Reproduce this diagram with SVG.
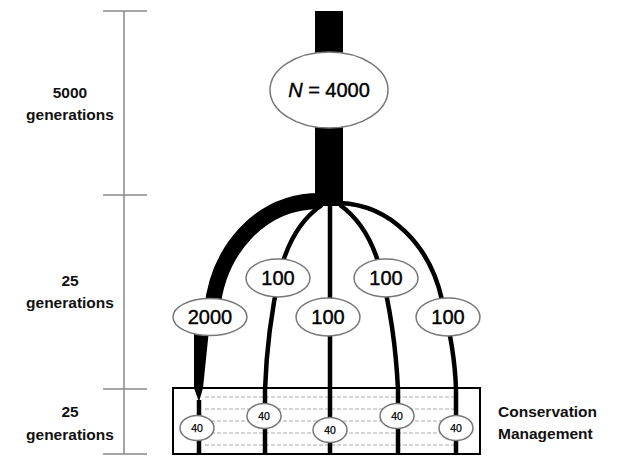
<svg xmlns="http://www.w3.org/2000/svg" width="623" height="475" viewBox="0 0 623 475">
<style>
.lbl{font-family:"Liberation Sans",Arial,sans-serif;font-weight:bold;font-size:15.5px;fill:#111;text-anchor:middle}
.side{font-family:"Liberation Sans",Arial,sans-serif;font-weight:bold;font-size:15.5px;fill:#111}
.num{font-family:"Liberation Sans",Arial,sans-serif;font-size:20px;fill:#000;stroke:#000;stroke-width:0.4;text-anchor:middle}
.small{font-family:"Liberation Sans",Arial,sans-serif;font-size:10.5px;fill:#000;stroke:#000;stroke-width:0.25;text-anchor:middle}
.ell{fill:#fff;stroke:#777;stroke-width:1.5}
.br{fill:none;stroke:#000;stroke-width:4.5}
.scale{stroke:#888;stroke-width:1.5;fill:none}
.dash{stroke:#aaa;stroke-width:1;stroke-dasharray:4 2}
</style>
<rect width="623" height="475" fill="#fff"/>
<g id="scale">
<line class="scale" x1="124" y1="11" x2="124" y2="454"/>
<line class="scale" x1="103" y1="11" x2="147" y2="11"/>
<line class="scale" x1="103" y1="195" x2="147" y2="195"/>
<line class="scale" x1="103" y1="389" x2="147" y2="389"/>
<line class="scale" x1="103" y1="454" x2="147" y2="454"/>
<text class="lbl" x="70" y="98">5000</text>
<text class="lbl" x="70" y="120">generations</text>
<text class="lbl" x="70" y="286">25</text>
<text class="lbl" x="70" y="308">generations</text>
<text class="lbl" x="70" y="417">25</text>
<text class="lbl" x="70" y="440">generations</text>
</g>
<g id="management-box">
<rect x="173" y="388" width="307" height="66" fill="#fff" stroke="#000" stroke-width="2"/>
<line class="dash" x1="205" y1="397" x2="456" y2="397"/>
<line class="dash" x1="205" y1="409" x2="456" y2="409"/>
<line class="dash" x1="205" y1="421" x2="456" y2="421"/>
<line class="dash" x1="205" y1="433" x2="456" y2="433"/>
<line class="dash" x1="205" y1="445" x2="456" y2="445"/>
<text class="side" x="498" y="417">Conservation</text>
<text class="side" x="498" y="439">Management</text>
</g>
<g id="connectors">
<rect x="315" y="11" width="28" height="195" fill="#000"/>
<path d="M320 201 C260 201 218 250 212 310" fill="none" stroke="#000" stroke-width="16"/>
<path d="M194 330 L209 330 L203 388 L199 402 L194 388 Z" fill="#000"/>
<line class="br" x1="199" y1="400" x2="199" y2="454"/>
<path class="br" d="M322 205 Q292 225 280 272 Q267 330 265 390 V454"/>
<line class="br" x1="330" y1="204" x2="330" y2="454"/>
<path class="br" d="M340 205 Q368 225 380 268 Q395 325 398 390 V454"/>
<path class="br" d="M340 203 C390 205 430 245 442 300 Q455 350 456 390 V454"/>
</g>
<g id="node-N4000">
<ellipse class="ell" cx="329" cy="90" rx="59" ry="38"/>
<text class="num" x="329" y="97"><tspan font-style="italic">N</tspan> = 4000</text>
</g>
<g id="node-2000">
<ellipse class="ell" cx="210" cy="317" rx="37" ry="18.5"/>
<text class="num" x="210" y="324">2000</text>
</g>
<g id="node-100a">
<ellipse class="ell" cx="278" cy="278" rx="32" ry="19"/>
<text class="num" x="278" y="285">100</text>
</g>
<g id="node-100b">
<ellipse class="ell" cx="328" cy="317" rx="32" ry="19"/>
<text class="num" x="328" y="324">100</text>
</g>
<g id="node-100c">
<ellipse class="ell" cx="386" cy="278" rx="32" ry="19"/>
<text class="num" x="386" y="285">100</text>
</g>
<g id="node-100d">
<ellipse class="ell" cx="448" cy="317" rx="32" ry="19"/>
<text class="num" x="448" y="324">100</text>
</g>
<g id="node-40a">
<ellipse class="ell" cx="197" cy="428" rx="17" ry="12.5"/>
<text class="small" x="197" y="432">40</text>
</g>
<g id="node-40b">
<ellipse class="ell" cx="264" cy="416" rx="17" ry="12.5"/>
<text class="small" x="264" y="420">40</text>
</g>
<g id="node-40c">
<ellipse class="ell" cx="330" cy="430" rx="17" ry="12.5"/>
<text class="small" x="330" y="434">40</text>
</g>
<g id="node-40d">
<ellipse class="ell" cx="397" cy="416" rx="17" ry="12.5"/>
<text class="small" x="397" y="420">40</text>
</g>
<g id="node-40e">
<ellipse class="ell" cx="456" cy="428" rx="17" ry="12.5"/>
<text class="small" x="456" y="432">40</text>
</g>
</svg>
